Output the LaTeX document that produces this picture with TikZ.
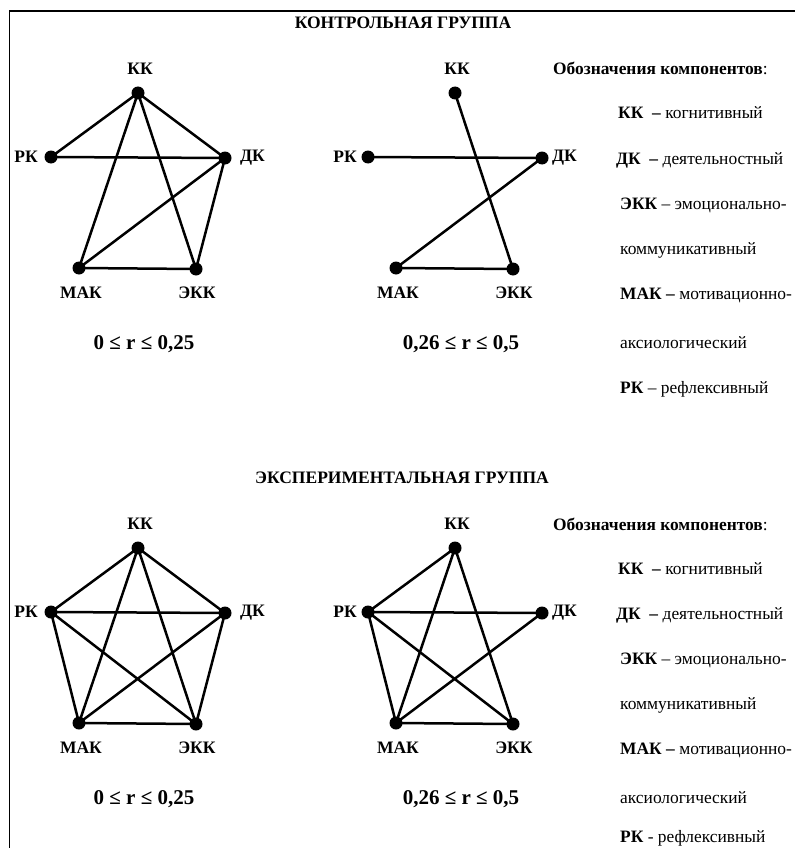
\documentclass[tikz,border=0pt]{standalone}
\usepackage{fontspec}
\setmainfont{Liberation Serif}
\tikzset{
  dot/.style={circle,fill=black,inner sep=0pt,minimum size=13pt},
  lab/.style={font=\fontsize{17.5}{20}\selectfont\bfseries, inner sep=0pt},
  formula/.style={font=\fontsize{21}{25}\selectfont\bfseries, inner sep=0pt, anchor=base},
  edgeline/.style={line width=2.5pt},
  legend/.style={anchor=base west, font=\fontsize{17.4}{21}\selectfont, inner sep=0pt},
  ttl/.style={font=\fontsize{17.5}{20}\selectfont\bfseries, inner sep=0pt},
  frameline/.style={line width=1.8pt}
}
% #1 x shift, #2 y shift, #3 prefix, #4 edges, #5 formula, #6 DK label gap, #7 RK label gap
\newcommand\mygraph[7]{%
  \begin{scope}[shift={(#1,#2)}, name prefix=#3]
    \node[dot] (KK) at (138,93) {};
    \node[dot] (RK) at (51,157) {};
    \node[dot] (DK) at (225,158) {};
    \node[dot] (MAK) at (79,268) {};
    \node[dot] (EKK) at (196,269) {};
    \foreach \a/\b in {#4} { \draw[edgeline] (\a.center) -- (\b.center); }
    \node[lab] (lKK) at (140,69) {КК};
    \node[lab, anchor=east] (lRK) at ([xshift=-#7pt]RK.center) {РК};
    \node[lab, anchor=west] (lDK) at ([xshift=#6pt]DK.center) {ДК};
    \node[lab] (lMAK) at (81,293) {МАК};
    \node[lab] (lEKK) at (197,293) {ЭКК};
    \node[formula] (form) at (144,349) {#5};
  \end{scope}}
% #1 y shift, #2 prefix, #3 last dash, #4 last baseline
\newcommand\mylegend[4]{%
  \begin{scope}[shift={(0,#1)}, name prefix=#2]
    \node[legend] (h) at (553,75) {\textbf{Обозначения компонентов}:};
    \node[legend] (l1) at (618,119) {\textbf{КК \ –} когнитивный};
    \node[legend] (l2) at (616,164) {\textbf{ДК \ –} деятельностный};
    \node[legend] (l3) at (620,209) {\textbf{ЭКК} – эмоционально-};
    \node[legend] (l4) at (620,254) {коммуникативный};
    \node[legend] (l5) at (620,299) {\textbf{МАК –} мотивационно-};
    \node[legend] (l6) at (620,348) {аксиологический};
    \node[legend] (l7) at (620,#4) {\textbf{РК} #3 рефлексивный};
  \end{scope}}
\begin{document}
\begin{tikzpicture}[x=1pt,y=-1pt]
  \useasboundingbox (0,0) rectangle (795,848);
  \fill[white] (0,0) rectangle (795,848);
  \draw[frameline] (9.5,848) -- (9.5,11) -- (795,11);
  \node[ttl] (t1) at (403,23) {КОНТРОЛЬНАЯ ГРУППА};
  \node[ttl] (t2) at (402,478) {ЭКСПЕРИМЕНТАЛЬНАЯ ГРУППА};
  \mygraph{0}{0}{A-}{KK/RK,KK/DK,KK/MAK,KK/EKK,RK/DK,DK/MAK,DK/EKK,MAK/EKK}{0 ≤ r ≤ 0,25}{15}{13}
  \mygraph{317}{0}{B-}{KK/EKK,RK/DK,DK/MAK,MAK/EKK}{0,26 ≤ r ≤ 0,5}{10}{11}
  \mygraph{0}{455}{C-}{KK/RK,KK/DK,KK/MAK,KK/EKK,RK/DK,RK/MAK,RK/EKK,DK/MAK,DK/EKK,MAK/EKK}{0 ≤ r ≤ 0,25}{15}{13}
  \mygraph{317}{455}{D-}{KK/RK,KK/MAK,KK/EKK,RK/DK,RK/MAK,RK/EKK,DK/MAK,MAK/EKK}{0,26 ≤ r ≤ 0,5}{10}{11}
  \mylegend{0}{L1-}{–}{393}
  \mylegend{455}{L2-}{-}{387}
\end{tikzpicture}
\end{document}
